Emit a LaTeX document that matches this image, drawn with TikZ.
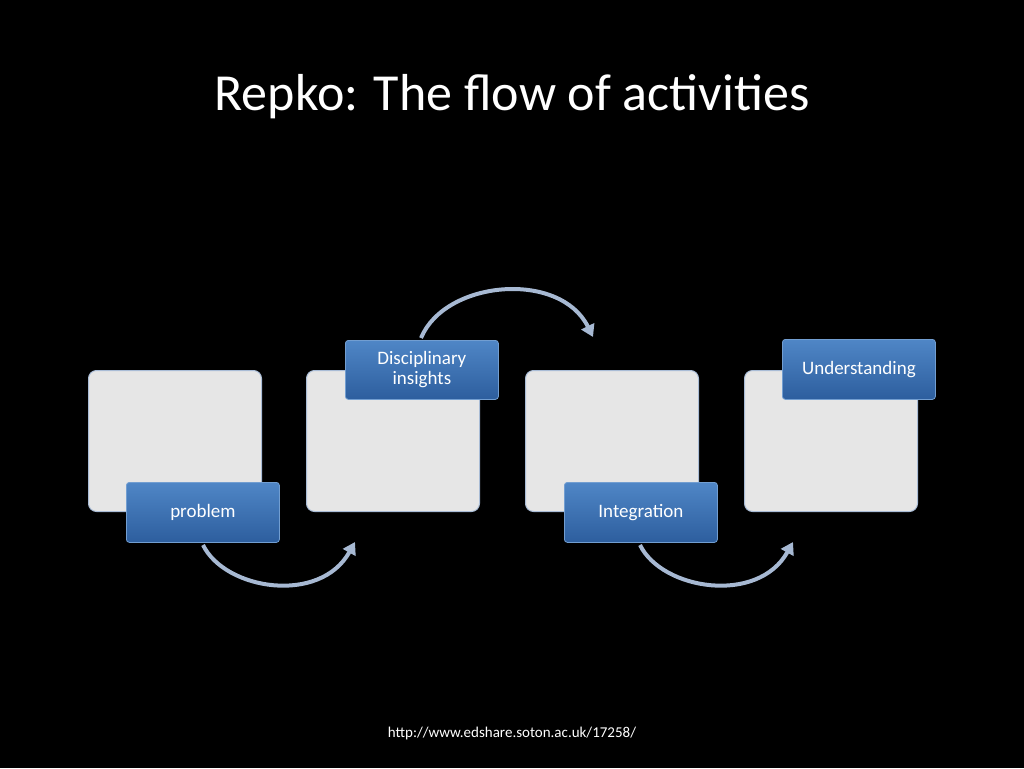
\documentclass[tikz,border=0pt]{standalone}
\usepackage{fontspec}
\setmainfont{Carlito}
\usetikzlibrary{arrows.meta}
\definecolor{lbox}{HTML}{E6E6E6}
\definecolor{lborder}{HTML}{A9BCD6}
\definecolor{btop}{HTML}{4F86C6}
\definecolor{bbot}{HTML}{2D5E9E}
\definecolor{arr}{HTML}{A7B9D3}
\tikzset{
  lightbox/.style={draw=lborder, line width=1pt, fill=lbox, rounded corners=8pt, minimum width=173pt, minimum height=141pt, anchor=north west},
  bluebox/.style={draw=btop!80!white, line width=0.8pt, top color=btop, bottom color=bbot, rounded corners=3pt, minimum width=153pt, minimum height=60pt, text=white, font=\fontsize{19}{22}\selectfont, align=center, anchor=north west, drop shadow/.try},
  flow/.style={draw=arr, line width=4pt, -{Triangle[length=12pt,width=14pt]}}
}
\begin{document}
\begin{tikzpicture}[x=1pt,y=-1pt]
\fill[black] (0,0) rectangle (1024,768);
\useasboundingbox (0,0) rectangle (1024,768);
\node[text=white, font=\fontsize{52}{60}\selectfont] (title) at (512,97) {Repko: The flow of activities};
\node[lightbox] (b1) at (88,370) {};
\node[lightbox] (b2) at (306,370) {};
\node[lightbox] (b3) at (525,370) {};
\node[lightbox] (b4) at (744,370) {};
\node[bluebox] (p) at (126,482) {problem};
\node[bluebox, minimum height=59pt] (d) at (345,340) {Disciplinary\\[-2pt]insights};
\node[bluebox] (i) at (564,482) {Integration};
\node[bluebox, minimum height=60pt] (u) at (782,339) {Understanding};
\coordinate (a1s) at (203,545); \coordinate (a1e) at (355,542);
\coordinate (a2s) at (421,338); \coordinate (a2e) at (593,337);
\coordinate (a3s) at (640,545); \coordinate (a3e) at (793,542);
\draw[flow] (a1s) .. controls (225,590) and (320,605) .. (a1e);
\draw[flow] (a2s) .. controls (445,280) and (560,270) .. (a2e);
\draw[flow] (a3s) .. controls (662,590) and (758,605) .. (a3e);
\node[text=white, font=\fontsize{15}{18}\selectfont] (url) at (512,733) {http://www.edshare.soton.ac.uk/17258/};
\end{tikzpicture}
\end{document}
